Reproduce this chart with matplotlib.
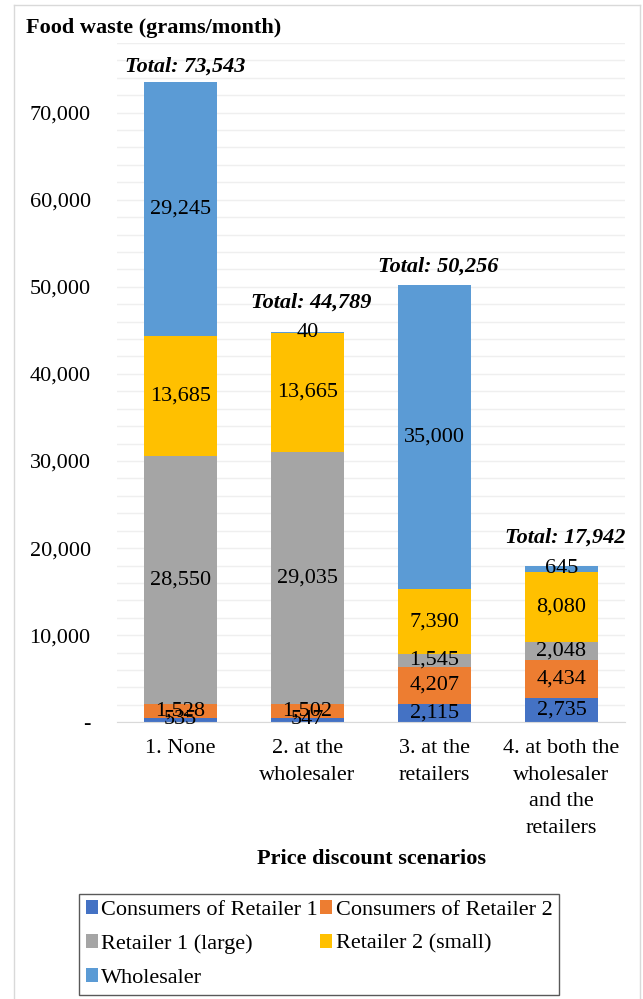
import numpy as np
import matplotlib
matplotlib.use("Agg")
import matplotlib.pyplot as plt
from matplotlib.ticker import FuncFormatter, MultipleLocator
from matplotlib.lines import Line2D

plt.rcParams['font.family'] = ['Liberation Serif', 'DejaVu Serif']

scenarios = ["1. None", "2. at the\nwholesaler", "3. at the\nretailers",
             "4. at both the\nwholesaler\nand the\nretailers"]
series_names = ["Consumers of Retailer 1", "Consumers of Retailer 2",
                "Retailer 1 (large)", "Retailer 2 (small)", "Wholesaler"]
consumers_r1 = [535, 547, 2115, 2735]
consumers_r2 = [1528, 1502, 4207, 4434]
retailer1 = [28550, 29035, 1545, 2048]
retailer2 = [13685, 13665, 7390, 8080]
wholesaler = [29245, 40, 35000, 645]
totals = [73543, 44789, 50256, 17942]
colors = ["#4472C4", "#ED7D31", "#A5A5A5", "#FFC000", "#5B9BD5"]

series = [consumers_r1, consumers_r2, retailer1, retailer2, wholesaler]

fig = plt.figure(figsize=(6.43, 9.99), dpi=100)
ax = fig.add_axes([0.182, 0.277, 0.79, 0.68])

FS = 16
x = np.arange(len(scenarios))
bottom = np.zeros(len(scenarios))
bars = []
for vals, name, col in zip(series, series_names, colors):
    b = ax.bar(x, vals, 0.58, bottom=bottom, color=col, label=name, zorder=2)
    ax.bar_label(b, labels=[f"{v:,}" for v in vals], label_type='center',
                 fontsize=FS, color='black')
    bars.append(b)
    bottom += np.array(vals)

# excel nudges the total labels up where the top segment has its own label
total_offsets = [4, 14, 6, 13]
for xi, top, t, off in zip(x, bottom, totals, total_offsets):
    ax.annotate(f"Total: {t:,}", (xi, top), xytext=(3, off), textcoords='offset points',
                ha='center', va='bottom', fontsize=FS, fontweight='bold', style='italic')

ax.set_xlim(-0.5, 3.5)
ax.set_ylim(0, 78000)
ax.yaxis.set_major_locator(MultipleLocator(10000))
ax.yaxis.set_minor_locator(MultipleLocator(2000))
ax.yaxis.set_major_formatter(FuncFormatter(lambda v, p: "-" if v == 0 else f"{v:,.0f}"))
ax.grid(axis='y', which='both', color='#EFEFEF', linewidth=1, zorder=0)
ax.set_axisbelow(True)
ax.set_xticks(x)
ax.set_xticklabels(scenarios, fontsize=FS, linespacing=1.55)
ax.tick_params(axis='y', labelsize=FS, length=0, pad=19, which='both')
ax.tick_params(axis='x', length=0, pad=12)
for s in ['top', 'right', 'left']:
    ax.spines[s].set_visible(False)
ax.spines['bottom'].set_color('#D9D9D9')
ax.set_xlabel("Price discount scenarios", fontsize=FS, fontweight='bold', labelpad=8)

fig.text(0.04, 0.972, "Food waste (grams/month)", fontsize=FS, fontweight='bold',
         ha='left', va='center')

# legend in row-major order like the original
order = [0, 2, 4, 1, 3]
leg = fig.legend([bars[i] for i in order], [series_names[i] for i in order],
                 loc='center', bbox_to_anchor=(0.496, 0.055), ncol=2, fontsize=FS,
                 frameon=True, fancybox=False, edgecolor='#595959', framealpha=1,
                 handlelength=0.55, handleheight=0.55, handletextpad=0.15,
                 columnspacing=0.1, labelspacing=0.65, borderpad=0.3)
leg.get_frame().set_linewidth(1)

# outer chart border
for xs, ys in [([0.021, 0.021], [0, 0.995]), ([0.021, 0.996], [0.995, 0.995]),
               ([0.996, 0.996], [0, 0.995])]:
    fig.add_artist(Line2D(xs, ys, transform=fig.transFigure, color='#D9D9D9', linewidth=1))

fig.savefig("out.png", dpi=100)
